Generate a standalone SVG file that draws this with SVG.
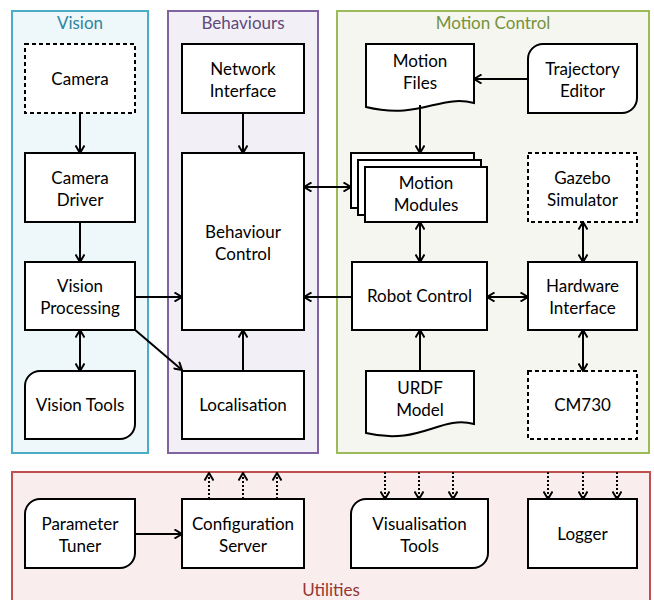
<svg xmlns="http://www.w3.org/2000/svg" width="654" height="600" viewBox="0 0 654 600">
<style>
text{font-family:"Lato","Liberation Sans",sans-serif;font-size:17px;fill:#000;text-anchor:middle}
.box{fill:#fff;stroke:#000;stroke-width:2}
.dash{stroke-dasharray:4,3}
.c{fill:none;stroke:#000;stroke-width:2}
.dot{fill:none;stroke:#000;stroke-width:2;stroke-dasharray:2,2}
.grp{stroke-width:2}
</style>
<defs>
<marker id="ah" viewBox="0 0 10 10" refX="9" refY="5" markerWidth="10" markerHeight="10" markerUnits="userSpaceOnUse" orient="auto-start-reverse">
<path d="M1.5,0.5 L9,5 L1.5,9.5" fill="none" stroke="#000" stroke-width="2"/>
</marker>
</defs>
<g id="containers">
<g id="vision"><rect x="12" y="11" width="136" height="442" fill="#EEF7FA" stroke="#4BACC6" class="grp"/><text x="80" y="29" style="fill:#31859C">Vision</text></g>
<g id="behaviours"><rect x="168" y="11" width="150" height="442" fill="#F2F0F6" stroke="#8064A2" class="grp"/><text x="243" y="29" style="fill:#5F497A">Behaviours</text></g>
<g id="motioncontrol"><rect x="337" y="11" width="312" height="442" fill="#F5F6EF" stroke="#9BBB59" class="grp"/><text x="493" y="29" style="fill:#76923C">Motion Control</text></g>
<g id="utilities"><rect x="12" y="472" width="638" height="140" fill="#F9EDED" stroke="#C0504D" class="grp"/><text x="331" y="596" style="fill:#943634">Utilities</text></g>
</g>
<g id="camera"><rect x="25" y="44" width="110" height="69" class="box dash"/><text x="80" y="84.5">Camera</text></g>
<g id="camera-driver"><rect x="25" y="153" width="110" height="69" class="box"/><text x="80" y="183.5">Camera</text><text x="80" y="205.5">Driver</text></g>
<g id="vision-processing"><rect x="25" y="262" width="110" height="68" class="box"/><text x="80" y="292">Vision</text><text x="80" y="314">Processing</text></g>
<g id="vision-tools"><path d="M40,371 H135 V424 A15,15 0 0 1 120,439 H25 V386 A15,15 0 0 1 40,371 Z" class="box"/><text x="80" y="411">Vision Tools</text></g>
<g id="network-interface"><rect x="182" y="44" width="122" height="69" class="box"/><text x="243" y="74.5">Network</text><text x="243" y="96.5">Interface</text></g>
<g id="behaviour-control"><rect x="182" y="153" width="122" height="177" class="box"/><text x="243" y="237.5">Behaviour</text><text x="243" y="259.5">Control</text></g>
<g id="localisation"><rect x="182" y="371" width="122" height="68" class="box"/><text x="243" y="411">Localisation</text></g>
<g id="motion-files"><path d="M366,44 H474 V103 C440,94 420,120 366,107 Z" class="box"/><text x="420" y="67">Motion</text><text x="420" y="89">Files</text></g>
<g id="trajectory-editor"><path d="M543,44 H637 V98 A15,15 0 0 1 622,113 H528 V59 A15,15 0 0 1 543,44 Z" class="box"/><text x="582.5" y="74.5">Trajectory</text><text x="582.5" y="96.5">Editor</text></g>
<g id="motion-modules"><rect x="351" y="153" width="123" height="55" class="box"/><rect x="358" y="160" width="123" height="55" class="box"/><rect x="365" y="167" width="122" height="55" class="box"/><text x="426" y="189">Motion</text><text x="426" y="211">Modules</text></g>
<g id="gazebo-simulator"><rect x="528" y="153" width="109" height="69" class="box dash"/><text x="582.5" y="183.5">Gazebo</text><text x="582.5" y="205.5">Simulator</text></g>
<g id="robot-control"><rect x="352" y="262" width="135" height="68" class="box"/><text x="419.5" y="302">Robot Control</text></g>
<g id="hardware-interface"><rect x="528" y="262" width="109" height="68" class="box"/><text x="582.5" y="292">Hardware</text><text x="582.5" y="314">Interface</text></g>
<g id="urdf-model"><path d="M366,371 H474 V424 C440,415 420,446 366,433 Z" class="box"/><text x="420" y="394">URDF</text><text x="420" y="416">Model</text></g>
<g id="cm730"><rect x="528" y="371" width="109" height="68" class="box dash"/><text x="582.5" y="411">CM730</text></g>
<g id="parameter-tuner"><path d="M40,499 H135 V553 A15,15 0 0 1 120,568 H25 V514 A15,15 0 0 1 40,499 Z" class="box"/><text x="80" y="529.5">Parameter</text><text x="80" y="551.5">Tuner</text></g>
<g id="configuration-server"><rect x="182" y="499" width="122" height="69" class="box"/><text x="243" y="529.5">Configuration</text><text x="243" y="551.5">Server</text></g>
<g id="visualisation-tools"><path d="M366,499 H488 V553 A15,15 0 0 1 473,568 H351 V514 A15,15 0 0 1 366,499 Z" class="box"/><text x="419.5" y="529.5">Visualisation</text><text x="419.5" y="551.5">Tools</text></g>
<g id="logger"><rect x="528" y="499" width="109" height="69" class="box"/><text x="582.5" y="540">Logger</text></g>
<g id="connectors">
<line x1="80" y1="113" x2="80" y2="153" class="c" marker-end="url(#ah)"/>
<line x1="80" y1="222" x2="80" y2="262" class="c" marker-end="url(#ah)"/>
<line x1="80" y1="330" x2="80" y2="371" class="c" marker-start="url(#ah)" marker-end="url(#ah)"/>
<line x1="135" y1="297" x2="182" y2="297" class="c" marker-end="url(#ah)"/>
<line x1="134" y1="329" x2="182" y2="370" class="c" marker-end="url(#ah)"/>
<line x1="243" y1="113" x2="243" y2="153" class="c" marker-end="url(#ah)"/>
<line x1="243" y1="371" x2="243" y2="330" class="c" marker-end="url(#ah)"/>
<line x1="304" y1="187" x2="351" y2="187" class="c" marker-start="url(#ah)" marker-end="url(#ah)"/>
<line x1="352" y1="297" x2="304" y2="297" class="c" marker-end="url(#ah)"/>
<line x1="528" y1="79" x2="474" y2="79" class="c" marker-end="url(#ah)"/>
<line x1="420" y1="105" x2="420" y2="153" class="c" marker-end="url(#ah)"/>
<line x1="420" y1="222" x2="420" y2="262" class="c" marker-start="url(#ah)" marker-end="url(#ah)"/>
<line x1="420" y1="371" x2="420" y2="330" class="c" marker-end="url(#ah)"/>
<line x1="487" y1="297" x2="528" y2="297" class="c" marker-start="url(#ah)" marker-end="url(#ah)"/>
<line x1="583" y1="222" x2="583" y2="262" class="c" marker-start="url(#ah)" marker-end="url(#ah)"/>
<line x1="583" y1="330" x2="583" y2="371" class="c" marker-start="url(#ah)" marker-end="url(#ah)"/>
<line x1="135" y1="534" x2="182" y2="534" class="c" marker-end="url(#ah)"/>
<line x1="209" y1="499" x2="209" y2="473" class="dot" marker-end="url(#ah)"/>
<line x1="243" y1="499" x2="243" y2="473" class="dot" marker-end="url(#ah)"/>
<line x1="277" y1="499" x2="277" y2="473" class="dot" marker-end="url(#ah)"/>
<line x1="385" y1="472" x2="385" y2="499" class="dot" marker-end="url(#ah)"/>
<line x1="419" y1="472" x2="419" y2="499" class="dot" marker-end="url(#ah)"/>
<line x1="453" y1="472" x2="453" y2="499" class="dot" marker-end="url(#ah)"/>
<line x1="548" y1="472" x2="548" y2="499" class="dot" marker-end="url(#ah)"/>
<line x1="583" y1="472" x2="583" y2="499" class="dot" marker-end="url(#ah)"/>
<line x1="617" y1="472" x2="617" y2="499" class="dot" marker-end="url(#ah)"/>
</g>
</svg>
